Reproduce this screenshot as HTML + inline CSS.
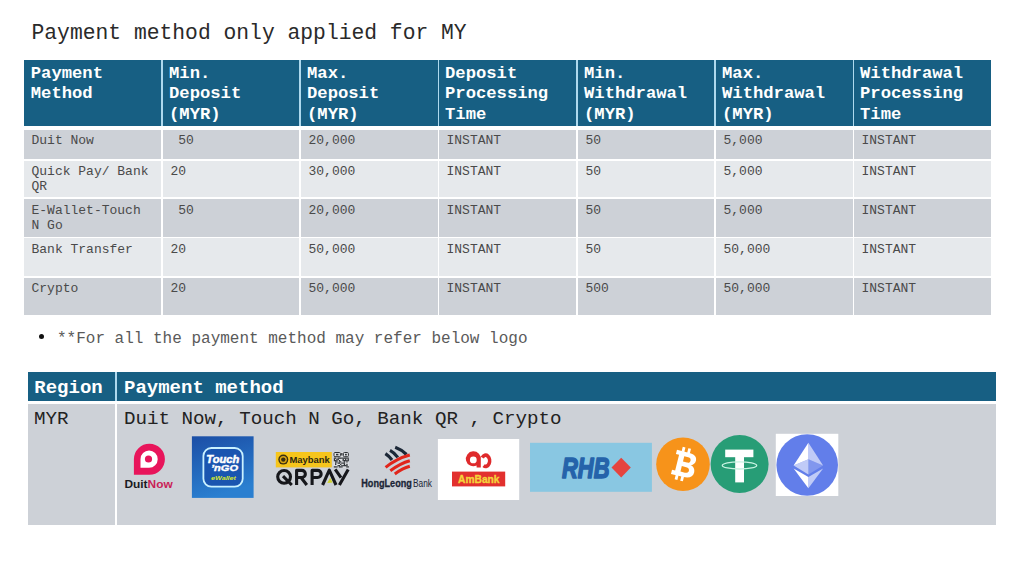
<!DOCTYPE html>
<html><head><meta charset="utf-8">
<style>
html,body{margin:0;padding:0;}
body{width:1024px;height:574px;position:relative;overflow:hidden;background:#fff;font-family:"Liberation Mono",monospace;}
.a{position:absolute;white-space:nowrap;}
#title{left:31.5px;top:21.3px;font-size:21.33px;line-height:24px;color:#2a2a2a;}
.h{position:absolute;top:60px;height:66px;background:#175f83;color:#fff;font-weight:bold;font-size:17.2px;line-height:20.5px;box-sizing:border-box;padding:3.5px 0 0 6px;white-space:nowrap;}
.c{position:absolute;box-sizing:border-box;padding:3.8px 0 0 7.5px;font-size:13px;line-height:15.3px;color:#4a4a4a;white-space:nowrap;}
.d{background:#cdd1d7;}
.lt{background:#e6e9ec;}
.r1{padding-top:2.5px;}
#bullet{left:38.5px;top:333.8px;width:5px;height:5px;border-radius:50%;background:#111;}
#btext{left:57px;top:329.6px;font-size:16px;line-height:18px;color:#5a5a5a;}
.h2{position:absolute;top:372px;height:29px;background:#175f83;color:#fff;font-weight:bold;font-size:19px;line-height:22px;box-sizing:border-box;padding:5px 0 0 7px;white-space:nowrap;}
.c2{position:absolute;top:404px;height:121px;background:#cdd1d7;color:#222;font-size:19.2px;line-height:22px;box-sizing:border-box;padding:3.6px 0 0 7px;white-space:nowrap;}
</style></head><body>
<div id="title" class="a">Payment method only applied for MY</div>
<div class="a" style="left:161px;top:60px;width:693px;height:66px;background:#aed9ee"></div>
<div class="a" style="left:115px;top:372px;width:2px;height:29px;background:#aed9ee"></div>
<div class="h" style="left:24px;width:137px;padding-left:6.8px">Payment<br>Method</div>
<div class="h" style="left:163px;width:136px">Min.<br>Deposit<br>(MYR)</div>
<div class="h" style="left:301px;width:137px">Max.<br>Deposit<br>(MYR)</div>
<div class="h" style="left:439px;width:137px">Deposit<br>Processing<br>Time</div>
<div class="h" style="left:578px;width:136px">Min.<br>Withdrawal<br>(MYR)</div>
<div class="h" style="left:716px;width:137px">Max.<br>Withdrawal<br>(MYR)</div>
<div class="h" style="left:854px;width:137px">Withdrawal<br>Processing<br>Time</div>
<div class="c d" style="left:24px;width:137px;top:130px;height:29px;padding-top:2.5px">Duit Now</div>
<div class="c d" style="left:163px;width:136px;top:130px;height:29px;padding-top:2.5px">&nbsp;50</div>
<div class="c d" style="left:301px;width:137px;top:130px;height:29px;padding-top:2.5px">20,000</div>
<div class="c d" style="left:439px;width:137px;top:130px;height:29px;padding-top:2.5px">INSTANT</div>
<div class="c d" style="left:578px;width:136px;top:130px;height:29px;padding-top:2.5px">50</div>
<div class="c d" style="left:716px;width:137px;top:130px;height:29px;padding-top:2.5px">5,000</div>
<div class="c d" style="left:854px;width:137px;top:130px;height:29px;padding-top:2.5px">INSTANT</div>
<div class="c lt" style="left:24px;width:137px;top:161px;height:36px;padding-top:2.9px">Quick Pay/ Bank<br>QR</div>
<div class="c lt" style="left:163px;width:136px;top:161px;height:36px;padding-top:2.9px">20</div>
<div class="c lt" style="left:301px;width:137px;top:161px;height:36px;padding-top:2.9px">30,000</div>
<div class="c lt" style="left:439px;width:137px;top:161px;height:36px;padding-top:2.9px">INSTANT</div>
<div class="c lt" style="left:578px;width:136px;top:161px;height:36px;padding-top:2.9px">50</div>
<div class="c lt" style="left:716px;width:137px;top:161px;height:36px;padding-top:2.9px">5,000</div>
<div class="c lt" style="left:854px;width:137px;top:161px;height:36px;padding-top:2.9px">INSTANT</div>
<div class="c d" style="left:24px;width:137px;top:199px;height:38px">E-Wallet-Touch<br>N Go</div>
<div class="c d" style="left:163px;width:136px;top:199px;height:38px">&nbsp;50</div>
<div class="c d" style="left:301px;width:137px;top:199px;height:38px">20,000</div>
<div class="c d" style="left:439px;width:137px;top:199px;height:38px">INSTANT</div>
<div class="c d" style="left:578px;width:136px;top:199px;height:38px">50</div>
<div class="c d" style="left:716px;width:137px;top:199px;height:38px">5,000</div>
<div class="c d" style="left:854px;width:137px;top:199px;height:38px">INSTANT</div>
<div class="c lt" style="left:24px;width:137px;top:238px;height:38px">Bank Transfer</div>
<div class="c lt" style="left:163px;width:136px;top:238px;height:38px">20</div>
<div class="c lt" style="left:301px;width:137px;top:238px;height:38px">50,000</div>
<div class="c lt" style="left:439px;width:137px;top:238px;height:38px">INSTANT</div>
<div class="c lt" style="left:578px;width:136px;top:238px;height:38px">50</div>
<div class="c lt" style="left:716px;width:137px;top:238px;height:38px">50,000</div>
<div class="c lt" style="left:854px;width:137px;top:238px;height:38px">INSTANT</div>
<div class="c d" style="left:24px;width:137px;top:278px;height:37px;padding-top:2.8px">Crypto</div>
<div class="c d" style="left:163px;width:136px;top:278px;height:37px;padding-top:2.8px">20</div>
<div class="c d" style="left:301px;width:137px;top:278px;height:37px;padding-top:2.8px">50,000</div>
<div class="c d" style="left:439px;width:137px;top:278px;height:37px;padding-top:2.8px">INSTANT</div>
<div class="c d" style="left:578px;width:136px;top:278px;height:37px;padding-top:2.8px">500</div>
<div class="c d" style="left:716px;width:137px;top:278px;height:37px;padding-top:2.8px">50,000</div>
<div class="c d" style="left:854px;width:137px;top:278px;height:37px;padding-top:2.8px">INSTANT</div>
<div id="bullet" class="a"></div>
<div id="btext" class="a">**For all the payment method may refer below logo</div>
<div class="h2" style="left:28px;width:87px;padding-left:6.3px">Region</div>
<div class="h2" style="left:117px;width:879px">Payment method</div>
<div class="c2" style="left:28px;width:87px;padding-left:6px">MYR</div>
<div class="c2" style="left:117px;width:879px">Duit Now, Touch N Go, Bank QR , Crypto</div>
<svg class="a" style="left:0;top:0" width="1024" height="574" viewBox="0 0 1024 574" font-family="Liberation Sans, sans-serif">
<!-- DuitNow -->
<path d="M133.9 474.7 V459.1 A15.5 15.5 0 1 1 149.4 474.7 Z" fill="#e8155b"/>
<path d="M140.5 467.8 V459.2 A8.6 8.6 0 1 1 149.1 467.8 Z" fill="#fff"/>
<circle cx="148.5" cy="459" r="3.6" fill="#e8155b"/>
<text x="124.4" y="487.6" font-size="11.4" font-weight="bold" textLength="48.3" lengthAdjust="spacingAndGlyphs"><tspan fill="#1a1a1e">Duit</tspan><tspan fill="#c91f58">Now</tspan></text>
<!-- Touch n Go -->
<defs>
<linearGradient id="tng" x1="0" y1="0" x2="0.3" y2="1"><stop offset="0" stop-color="#1b4ea6"/><stop offset="1" stop-color="#2a7fd0"/></linearGradient>
</defs>
<rect x="191.9" y="436.3" width="61.7" height="61.6" fill="url(#tng)"/>
<rect x="203.4" y="448" width="39.3" height="38.7" rx="8" fill="#1a55b0" stroke="#c9f1ff" stroke-width="1.8"/>
<text x="206.3" y="462.6" font-size="10.6" font-weight="bold" font-style="italic" fill="#fff" stroke="#fff" stroke-width="0.5" textLength="33" lengthAdjust="spacingAndGlyphs">Touch</text>
<text x="211" y="471.1" font-size="9.4" font-weight="bold" font-style="italic" fill="#fff" stroke="#fff" stroke-width="0.4" textLength="27" lengthAdjust="spacingAndGlyphs">&#8217;nGO</text>
<text x="211" y="480.4" font-size="5.6" font-weight="bold" font-style="italic" fill="#d8e82a" textLength="25" lengthAdjust="spacingAndGlyphs">eWallet</text>
<!-- Maybank QRPAY -->
<rect x="275.8" y="452" width="56" height="15.4" fill="#f6c51c"/>
<circle cx="283.3" cy="459.6" r="5" fill="#3a2f10"/>
<circle cx="283.3" cy="459.6" r="3.6" fill="#d9a514"/>
<circle cx="283.3" cy="459.6" r="2.2" fill="#3a2f10"/>
<text x="289.5" y="462.8" font-size="8.3" font-weight="bold" fill="#2b2712" textLength="40.3" lengthAdjust="spacingAndGlyphs">Maybank</text>
<rect x="333.5" y="452" width="15.3" height="15.6" fill="#dfe1e4"/>
<rect x="334" y="452.5" width="6.4" height="4.2" rx="1" fill="none" stroke="#2e3236" stroke-width="1"/>
<rect x="336" y="453.8" width="2.4" height="1.6" fill="#2e3236"/>
<rect x="343.4" y="452.5" width="5" height="4.2" rx="1" fill="none" stroke="#2e3236" stroke-width="1"/>
<rect x="345" y="453.8" width="1.8" height="1.6" fill="#2e3236"/>
<rect x="341.2" y="453" width="1.3" height="2.5" fill="#2e3236"/>
<g fill="#2e3236"><rect x="333.80" y="457.50" width="1.30" height="1.30"/><rect x="335.05" y="457.50" width="1.30" height="1.30"/><rect x="337.55" y="457.50" width="1.30" height="1.30"/><rect x="338.80" y="457.50" width="1.30" height="1.30"/><rect x="340.05" y="457.50" width="1.30" height="1.30"/><rect x="341.30" y="457.50" width="1.30" height="1.30"/><rect x="342.55" y="457.50" width="1.30" height="1.30"/><rect x="343.80" y="457.50" width="1.30" height="1.30"/><rect x="345.05" y="457.50" width="1.30" height="1.30"/><rect x="346.30" y="457.50" width="1.30" height="1.30"/><rect x="347.55" y="457.50" width="1.30" height="1.30"/><rect x="333.80" y="458.75" width="1.30" height="1.30"/><rect x="336.30" y="458.75" width="1.30" height="1.30"/><rect x="337.55" y="458.75" width="1.30" height="1.30"/><rect x="342.55" y="458.75" width="1.30" height="1.30"/><rect x="345.05" y="458.75" width="1.30" height="1.30"/><rect x="347.55" y="458.75" width="1.30" height="1.30"/><rect x="333.80" y="460.00" width="1.30" height="1.30"/><rect x="335.05" y="460.00" width="1.30" height="1.30"/><rect x="336.30" y="460.00" width="1.30" height="1.30"/><rect x="338.80" y="460.00" width="1.30" height="1.30"/><rect x="342.55" y="460.00" width="1.30" height="1.30"/><rect x="343.80" y="460.00" width="1.30" height="1.30"/><rect x="345.05" y="460.00" width="1.30" height="1.30"/><rect x="346.30" y="460.00" width="1.30" height="1.30"/><rect x="347.55" y="460.00" width="1.30" height="1.30"/><rect x="335.05" y="461.25" width="1.30" height="1.30"/><rect x="336.30" y="461.25" width="1.30" height="1.30"/><rect x="338.80" y="461.25" width="1.30" height="1.30"/><rect x="340.05" y="461.25" width="1.30" height="1.30"/><rect x="343.80" y="461.25" width="1.30" height="1.30"/><rect x="346.30" y="461.25" width="1.30" height="1.30"/><rect x="335.05" y="462.50" width="1.30" height="1.30"/><rect x="337.55" y="462.50" width="1.30" height="1.30"/><rect x="338.80" y="462.50" width="1.30" height="1.30"/><rect x="341.30" y="462.50" width="1.30" height="1.30"/><rect x="342.55" y="462.50" width="1.30" height="1.30"/><rect x="343.80" y="462.50" width="1.30" height="1.30"/><rect x="335.05" y="463.75" width="1.30" height="1.30"/><rect x="340.05" y="463.75" width="1.30" height="1.30"/><rect x="343.80" y="463.75" width="1.30" height="1.30"/><rect x="346.30" y="463.75" width="1.30" height="1.30"/><rect x="337.55" y="465.00" width="1.30" height="1.30"/><rect x="338.80" y="465.00" width="1.30" height="1.30"/><rect x="341.30" y="465.00" width="1.30" height="1.30"/><rect x="342.55" y="465.00" width="1.30" height="1.30"/><rect x="343.80" y="465.00" width="1.30" height="1.30"/><rect x="345.05" y="465.00" width="1.30" height="1.30"/><rect x="346.30" y="465.00" width="1.30" height="1.30"/><rect x="333.80" y="466.25" width="1.30" height="1.30"/><rect x="335.05" y="466.25" width="1.30" height="1.30"/><rect x="336.30" y="466.25" width="1.30" height="1.30"/><rect x="338.80" y="466.25" width="1.30" height="1.30"/><rect x="340.05" y="466.25" width="1.30" height="1.30"/><rect x="341.30" y="466.25" width="1.30" height="1.30"/><rect x="346.30" y="466.25" width="1.30" height="1.30"/><rect x="347.55" y="466.25" width="1.30" height="1.30"/></g>
<g fill="none" stroke="#16171b" stroke-width="3.1" stroke-linejoin="round">
<circle cx="284.1" cy="476.85" r="6.4"/>
<path d="M283 476.2 L291.8 485"/>
<path d="M296.6 485 V470.4 H301.8 A3.55 3.55 0 0 1 301.8 477.5 H296.6 M301 477.5 L306.8 485"/>
<path d="M312.1 485 V470.4 H317.6 A3.55 3.55 0 0 1 317.6 477.5 H312.1"/>
<path d="M322.6 485 L329.3 470.2 L336 485"/>
<path d="M335.2 469.4 L341 477.6 M348.2 469.4 L339.4 485"/>
</g>
<path d="M327.3 483 L330.2 477.8 L332.6 482.6 Z" fill="#cfd32e"/>
<!-- Hong Leong -->
<g stroke="#1c2837" stroke-width="3.2" fill="none">
<path d="M385.4 453.6 Q388.8 455.8 392 460"/><path d="M390 450.4 Q394.2 452.6 397.8 457.4"/><path d="M395.2 447.2 Q401.5 449.5 406.5 454.5"/>
</g>
<g stroke="#e1251b" stroke-width="3" fill="none">
<path d="M385.6 467.4 Q396.5 458.5 409.8 455"/><path d="M390.3 470.8 Q400.5 463.3 409.8 460.8"/><path d="M394.8 474 Q402.5 468.3 409.8 466.3"/>
</g>
<text x="361.3" y="486.6" font-size="10.4" font-weight="bold" fill="#1b2536" stroke="#1b2536" stroke-width="0.3" textLength="50.5" lengthAdjust="spacingAndGlyphs">HongLeong</text><text x="413" y="486.6" font-size="10.4" fill="#1b2536" textLength="19" lengthAdjust="spacingAndGlyphs">Bank</text>
<!-- AmBank -->
<rect x="437.9" y="439" width="81.3" height="61" fill="#fff"/>
<g fill="#df2a2c">
<path fill-rule="evenodd" d="M480.8 459.9 V467.4 H476.6 V465.6 A7.5 7.5 0 1 1 480.8 459.9 Z M473.3 456.5 A3.4 3.4 0 1 0 473.3 463.3 A3.4 3.4 0 1 0 473.3 456.5 Z"/>
<path d="M482.3 457.6 A4 5.6 0 1 1 483.6 465.6" fill="none" stroke="#df2a2c" stroke-width="3.6"/>
</g>
<rect x="452" y="471.6" width="53.2" height="14.8" fill="#e2302e"/>
<text x="458.1" y="482.8" font-size="10.2" font-weight="bold" fill="#f5d43a" stroke="#f5d43a" stroke-width="0.35" textLength="41.4" lengthAdjust="spacingAndGlyphs">AmBank</text>
<!-- RHB -->
<rect x="530" y="442.8" width="121.9" height="49" fill="#89c7e2"/>
<text x="562" y="478" font-size="29" font-weight="bold" font-style="italic" fill="#2563aa" stroke="#2563aa" stroke-width="1.6" stroke-linejoin="round" textLength="47.5" lengthAdjust="spacingAndGlyphs">RHB</text>
<path d="M621.2 457.7 L630.8 467.6 L621.2 477.5 L611.5 467.6 Z" fill="#e5443e"/>
<!-- Bitcoin -->
<circle cx="683" cy="464.3" r="26.8" fill="#f7931a"/>
<g transform="translate(683.4 464.2) rotate(14) scale(1.08)" fill="#fff">
<path fill-rule="evenodd" d="M-9 -11.5 H3 C9 -11.5 10.5 -8.5 10.5 -6 C10.5 -3.2 8.6 -1.3 6.6 -0.8 C9.5 -0.2 11.5 2 11.5 5 C11.5 9 8.5 11.5 3 11.5 H-9 V7.5 H-6 V-7.5 H-9 Z M-1 -7.3 V-2.3 H2.8 C4.8 -2.3 5.6 -3.4 5.6 -4.8 C5.6 -6.2 4.8 -7.3 2.8 -7.3 Z M-1 2 V7.3 H3.2 C5.3 7.3 6.4 6.2 6.4 4.6 C6.4 3 5.3 2 3.2 2 Z"/>
<rect x="-4.5" y="-15.5" width="2.6" height="4.5"/><rect x="0.8" y="-15.5" width="2.6" height="4.5"/>
<rect x="-4.5" y="11" width="2.6" height="4.5"/><rect x="0.8" y="11" width="2.6" height="4.5"/>
</g>
<!-- Tether -->
<circle cx="739.6" cy="464" r="29" fill="#279d76"/>
<rect x="725.2" y="449.6" width="28.2" height="7.6" fill="#fff"/>
<rect x="735.2" y="456" width="8.8" height="26.4" fill="#fff"/>
<ellipse cx="739.5" cy="465.4" rx="17.2" ry="3.6" fill="none" stroke="#c8f3e2" stroke-width="1.3"/>
<!-- Ethereum -->
<rect x="775.8" y="433.8" width="62.5" height="62.2" fill="#fff"/>
<circle cx="807.2" cy="465" r="30.8" fill="#627eea"/>
<g fill="#fff">
<path d="M808.4 442.8 V459.2 L823.1 465.4 Z" fill-opacity="0.6"/>
<path d="M808.4 442.8 L793.6 465.4 L808.4 459.2 Z"/>
<path d="M808.4 477 V488.3 L823.1 468.6 Z" fill-opacity="0.6"/>
<path d="M808.4 488.3 V477 L793.6 468.6 Z"/>
<path d="M808.4 474.4 L823.1 465.4 L808.4 459.2 Z" fill-opacity="0.2"/>
<path d="M793.6 465.4 L808.4 474.4 V459.2 Z" fill-opacity="0.6"/>
</g>
</svg>
</body></html>
